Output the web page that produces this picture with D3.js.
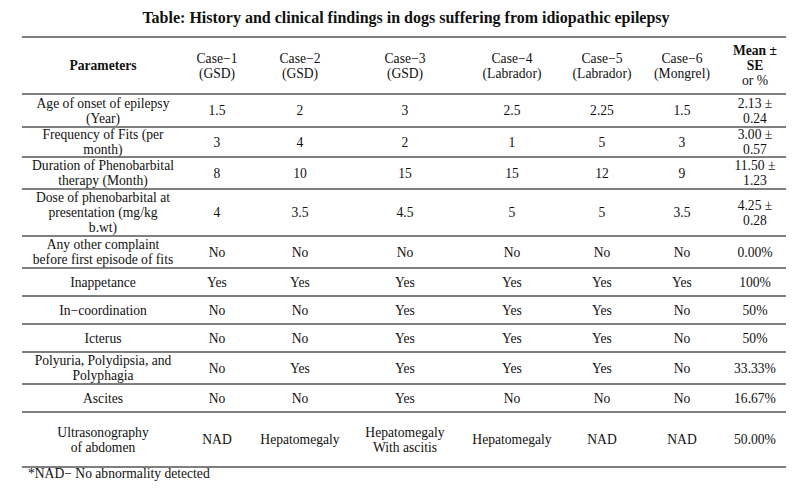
<!DOCTYPE html>
<html>
<head>
<script src="https://cdn.jsdelivr.net/npm/d3@7"></script>
<style>
body { margin:0; background:#fff; }
text { font-family: "Liberation Serif", "DejaVu Serif", serif; fill:#111; }
</style>
</head>
<body>
<script>
var headers = [["Parameters"], ["Case\u22121","(GSD)"], ["Case\u22122","(GSD)"], ["Case\u22123","(GSD)"],
  ["Case\u22124","(Labrador)"], ["Case\u22125","(Labrador)"], ["Case\u22126","(Mongrel)"], ["Mean \u00b1","SE","or %"]];
var params = [["Age of onset of epilepsy","(Year)"], ["Frequency of Fits (per","month)"],
  ["Duration of Phenobarbital","therapy (Month)"], ["Dose of phenobarbital at","presentation (mg/kg","b.wt)"],
  ["Any other complaint","before first episode of fits"], ["Inappetance"], ["In\u2212coordination"], ["Icterus"],
  ["Polyuria, Polydipsia, and","Polyphagia"], ["Ascites"], ["Ultrasonography","of abdomen"]];
var caseValues = [
  ["1.5","2","3","2.5","2.25","1.5"],
  ["3","4","2","1","5","3"],
  ["8","10","15","15","12","9"],
  ["4","3.5","4.5","5","5","3.5"],
  ["No","No","No","No","No","No"],
  ["Yes","Yes","Yes","Yes","Yes","Yes"],
  ["No","No","Yes","Yes","Yes","No"],
  ["No","No","Yes","Yes","Yes","No"],
  ["No","Yes","Yes","Yes","Yes","No"],
  ["No","No","Yes","No","No","No"],
  ["NAD","Hepatomegaly","Hepatomegaly|With ascitis","Hepatomegaly","NAD","NAD"]];
var summary = [["2.13 \u00b1","0.24"],["3.00 \u00b1","0.57"],["11.50 \u00b1","1.23"],["4.25 \u00b1","0.28"],
  ["0.00%"],["100%"],["50%"],["50%"],["33.33%"],["16.67%"],["50.00%"]];
var rowLines = [37, 94, 127, 157, 189, 236, 268, 296, 324, 352, 384, 412, 467];
var colCenters = [103, 217, 300, 405, 512, 602, 682, 755];

var W = 807, H = 493;
var svg = d3.select("body").append("svg").attr("width", W).attr("height", H);
var x = d3.scaleLinear().domain([0, W]).range([0, W]);

svg.append("text").attr("x", 406).attr("y", 23).attr("text-anchor","middle")
  .style("font-size","16px").style("font-weight","bold")
  .text("Table: History and clinical findings in dogs suffering from idiopathic epilepsy");

svg.selectAll("line.r").data(rowLines).enter().append("line")
  .attr("x1", 22).attr("x2", 786).attr("y1", d => d).attr("y2", d => d)
  .attr("stroke","#000").attr("stroke-width", 1.2);

function cell(lines, cx, y0, y1, boldLines) {
  var lh = 15, mid = (y0 + y1) / 2;
  var start = mid - (lines.length - 1) * lh / 2;
  lines.forEach(function(t, i) {
    svg.append("text").attr("x", x(cx)).attr("y", start + i * lh + 4.5)
      .attr("text-anchor","middle").style("font-size","13.6px")
      .style("font-weight", boldLines && boldLines.indexOf(i) >= 0 ? "bold" : "normal").text(t);
  });
}

headers.forEach(function(h, j) {
  cell(h, colCenters[j], rowLines[0], rowLines[1], j === 0 ? [0] : j === 7 ? [0, 1] : []);
});
params.forEach(function(p, i) {
  var y0 = rowLines[i+1], y1 = rowLines[i+2];
  cell(p, colCenters[0], y0, y1);
  caseValues[i].forEach(function(v, j) { cell(v.split("|"), colCenters[j+1], y0, y1); });
  cell(summary[i], colCenters[7], y0, y1);
});

svg.append("text").attr("x", 28).attr("y", 478).style("font-size","13.6px")
  .text("*NAD\u2212 No abnormality detected");
</script>
</body>
</html>
